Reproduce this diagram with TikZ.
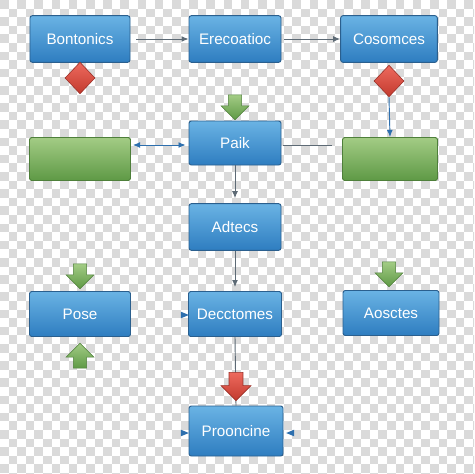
\documentclass[tikz,border=0pt]{standalone}
\usepackage{fontspec}
\newfontfamily\boxfont{Liberation Sans}
\usepackage{tikz}
\usetikzlibrary{shapes,arrows,positioning,calc,shapes.arrows,shapes.geometric,arrows.meta}
\usepackage{xcolor}

\definecolor{boxtop}{HTML}{6AB3E4}
\definecolor{boxbot}{HTML}{2E7DC0}
\definecolor{boxline}{HTML}{2A5F8E}
\definecolor{grtop}{HTML}{A3CC85}
\definecolor{grbot}{HTML}{5E9945}
\definecolor{grline}{HTML}{4E7F3A}
\definecolor{redtop}{HTML}{EE6A5E}
\definecolor{redbot}{HTML}{C23A2E}
\definecolor{redline}{HTML}{9A3028}
\definecolor{linkgray}{HTML}{5D6A75}
\definecolor{tipblue}{HTML}{2D6FAE}
\definecolor{chk}{HTML}{DADADA}

\begin{document}
\begin{tikzpicture}[
    x=0.03cm, y=-0.03cm,
    block/.style={rectangle, rounded corners=2pt, draw=boxline, line width=0.8pt, top color=boxtop, bottom color=boxbot, minimum height=1.4cm, text=white, font=\boxfont\fontsize{13}{15}\selectfont, text centered},
    gbox/.style={rectangle, rounded corners=2pt, draw=grline, line width=0.8pt, top color=grtop, bottom color=grbot, minimum height=1.29cm},
    gem/.style={diamond, draw=redline, line width=0.5pt, top color=redtop, bottom color=redbot, inner sep=0pt, minimum width=0.9cm, minimum height=0.95cm},
    garrow/.style={single arrow, draw=grline, line width=0.5pt, top color=grtop, bottom color=grbot, inner sep=0.19cm, minimum height=0.75cm, single arrow head extend=0.22cm},
    rarrow/.style={single arrow, draw=redline, line width=0.5pt, top color=redtop, bottom color=redbot, inner sep=0.2cm, minimum height=0.85cm, single arrow head extend=0.24cm},
    tri/.style={isosceles triangle, fill=tipblue, inner sep=0pt, minimum width=0.2cm, minimum height=0.18cm},
    arrow/.style={-{Latex[length=6pt,width=5pt]}, draw=linkgray, line width=0.8pt},
    darrow/.style={{Latex[length=6pt,width=5pt]}-{Latex[length=6pt,width=5pt]}, draw=tipblue, line width=0.8pt},
    link/.style={draw=linkgray, line width=0.8pt}
]

% Background
\useasboundingbox (0,0) rectangle (474,474);
\begin{scope}
\clip (0,0) rectangle (474,474);
\fill[white] (0,0) rectangle (474,474);
\foreach \i in {0,...,55}{
  \foreach \j in {0,...,55}{
    \pgfmathtruncatemacro\k{mod(\i+\j,2)}
    \ifnum\k=0 \fill[chk] (\i*8.6,\j*8.6) rectangle ++(8.6,8.6);\fi
  }
}
\end{scope}

% Top row
\node[block, minimum width=3cm] (bont) at (80,39) {Bontonics};
\node[block, minimum width=2.76cm] (erec) at (235,39) {Erecoatioc};
\node[block, minimum width=2.9cm] (cosm) at (389,39) {Cosomces};

% Diamonds
\node[gem] (gemL) at (80,78) {};
\node[gem] (gemR) at (389,81) {};

% Middle row
\node[garrow, shape border rotate=270] (gaPaik) at (235,104) {};
\node[gbox, minimum width=3.03cm] (greenL) at (80,159) {};
\node[block, minimum width=2.76cm, minimum height=1.32cm] (paik) at (235,143) {Paik};
\node[gbox, minimum width=2.85cm] (greenR) at (390,159) {};

% Lower rows
\node[block, minimum width=2.76cm] (adte) at (235,227) {Adtecs};
\node[garrow, shape border rotate=270] (gaPose) at (80,273) {};
\node[garrow, shape border rotate=270] (gaAosc) at (389,271) {};
\node[block, minimum width=3.03cm, minimum height=1.35cm] (pose) at (80,314) {Pose};
\node[block, minimum width=2.79cm, minimum height=1.35cm] (decc) at (235,314) {Decctomes};
\node[block, minimum width=2.88cm, minimum height=1.35cm] (aosc) at (391,313) {Aosctes};
\node[garrow, shape border rotate=90] (gaPoseUp) at (80,359) {};
\node[block, minimum width=2.82cm, minimum height=1.5cm] (proo) at (236,431) {Prooncine};

% Small tips
\node[tri] (tipDec) at (183,315) {};
\node[tri] (tipProL) at (183,433) {};
\node[tri, shape border rotate=180] (tipProR) at (292,433) {};

% Arrows
\draw[arrow] ($(bont.east)+(6,0)$) -- (erec.west);
\draw[arrow] ($(erec.east)+(3,0)$) -- (cosm.west);
\draw[darrow] ($(greenL.east)+(2,-14)$) -- ($(paik.west)+(-3,2)$);
\draw[link] ($(paik.east)+(2,2)$) -- ($(greenR.west)+(-10,-14)$);
\draw[arrow, draw=tipblue] (gemR.south) -- (greenR.north);
\draw[arrow] (paik.south) -- ($(adte.north)+(0,-5)$);
\draw[arrow] (adte.south) -- ($(decc.north)+(0,-4)$);
\draw[link] (decc.south) -- (proo.north);
\node[rarrow, shape border rotate=270] (raDec) at (236,383) {};

\end{tikzpicture}
\end{document}
